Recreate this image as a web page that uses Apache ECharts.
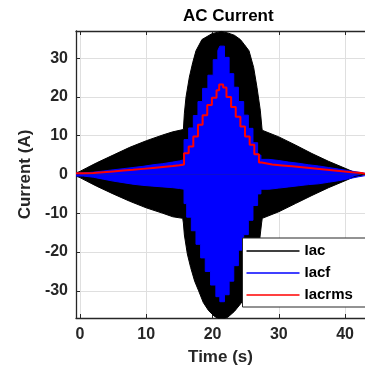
<!DOCTYPE html>
<html>
<head>
<meta charset="utf-8">
<script src="https://cdn.jsdelivr.net/npm/echarts@6/dist/echarts.min.js"></script>
<style>
  html, body { margin: 0; padding: 0; background: #ffffff; overflow: hidden; }
  #chart { width: 365px; height: 371px; }
</style>
</head>
<body>
<div id="chart"></div>
<script>
// Tick positions
const timeTicks = [0, 10, 20, 30, 40];
const currentTicks = [-30, -20, -10, 0, 10, 20, 30];

// Iac: envelope of the raw AC current, [time (s), current (A)]
const iacUpper = [
  [-0.6, 0.4], [0, 0.8], [1, 1.7], [2.5, 3.0], [5, 5.0], [7.5, 7.0], [10, 8.7],
  [12.5, 10.2], [14, 11.0], [15.6, 11.6], [15.75, 15.8], [16.0, 20.0], [16.5, 25.1],
  [17.0, 28.8], [17.5, 31.9], [18.4, 34.8], [19.9, 36.3], [21.3, 36.9], [22.3, 36.5],
  [23.3, 35.9], [24.2, 34.8], [24.8, 33.5], [25.5, 31.9], [26.2, 27.6], [26.7, 22.5],
  [27.2, 16.6], [27.45, 12.0], [27.5, 11.4], [30, 9.7], [32.5, 7.6], [35, 5.4],
  [37.5, 3.4], [40, 1.6], [41.5, 0.5], [43, 0]
];
const iacLower = [
  [-0.6, -0.4], [0, -0.8], [1, -1.7], [2.5, -3.0], [5, -5.0], [7.5, -6.9], [10, -8.6],
  [12.5, -10.0], [14, -10.9], [15.5, -11.3], [15.6, -12.5], [15.75, -15.6], [16.2, -20.5],
  [16.7, -24.0], [17.3, -27.5], [17.9, -30.0], [18.6, -33.0], [19.4, -35.1], [20.3, -36.6],
  [21.3, -37.5], [22.3, -36.8], [23.3, -35.3], [24.3, -33.2], [25.3, -30.3], [26.0, -27.0],
  [26.6, -22.5], [27.1, -17.0], [27.4, -12.5], [27.5, -11.3], [30, -9.6], [32.5, -7.5],
  [35, -5.4], [37.5, -3.4], [40, -1.6], [41.5, -0.5], [43, 0]
];

// Iacf: envelope of the filtered current (stair steps)
const iacfUpper = [
  [-0.6, 0.4], [0.5, 0.6], [2, 0.9], [3.5, 1.2], [5, 1.5], [6.5, 1.8], [8, 2.1],
  [9.5, 2.5], [11, 2.8], [12.5, 3.2], [14, 3.5], [15, 3.8], [15.7, 9.0], [16.4, 12.0],
  [17.1, 15.2], [17.8, 18.8], [18.5, 22.2], [19.3, 25.6], [20.1, 29.6], [20.8, 32.0],
  [21.1, 33.1], [21.8, 30.2], [22.5, 26.0], [23.2, 22.5], [23.9, 18.8], [24.7, 15.3],
  [25.4, 11.9], [26.1, 8.2], [26.8, 5.0], [27.3, 3.9], [28.5, 3.6], [30, 3.2],
  [31.5, 2.9], [33, 2.5], [34.5, 2.2], [36, 1.8], [37.5, 1.4], [39, 1.0], [40.5, 0.6],
  [42, 0.3], [43, 0.3]
];
const iacfLower = [
  [-0.6, -0.4], [0.5, -0.7], [2, -1.2], [3.5, -1.7], [5, -2.1], [6.5, -2.5], [8, -2.8],
  [9.5, -3.0], [11, -3.2], [12.5, -3.4], [14, -3.6], [15, -3.8], [15.7, -7.5], [16.1, -11.0],
  [16.8, -14.5], [17.5, -18.0], [18.2, -21.5], [18.9, -25.0], [19.7, -28.5], [20.5, -31.5],
  [21.1, -32.8], [21.8, -31.0], [22.5, -27.5], [23.2, -23.5], [23.9, -19.5], [24.7, -15.5],
  [25.4, -11.8], [26.1, -8.0], [26.8, -5.0], [27.3, -3.8], [28.5, -3.5], [30, -3.2],
  [31.5, -2.9], [33, -2.6], [34.5, -2.4], [36, -2.0], [37.5, -1.6], [39, -1.1],
  [40.5, -0.6], [42, -0.3], [43, -0.3]
];

// Iacrms: RMS current (stair steps)
const iacRms = [
  [-0.6, 0.3], [0.5, 0.4], [2, 0.6], [3.5, 0.8], [5, 1.0], [6.5, 1.2], [8, 1.45],
  [9.5, 1.7], [11, 1.95], [12.5, 2.2], [14, 2.4], [15, 2.6], [15.7, 5.5], [16.4, 7.2],
  [17.1, 9.8], [17.8, 12.8], [18.5, 15.3], [19.2, 17.9], [19.9, 19.8], [20.6, 21.7],
  [21.0, 23.2], [21.6, 22.4], [22.1, 20.0], [22.8, 17.4], [23.5, 14.9], [24.2, 12.4],
  [24.9, 9.8], [25.6, 7.7], [26.3, 5.2], [27.0, 3.1], [27.4, 2.6], [29, 2.35],
  [30.5, 2.1], [32, 1.85], [33.5, 1.6], [35, 1.35], [36.5, 1.1], [38, 0.85],
  [39.5, 0.6], [41, 0.4], [42.5, 0.2], [43, 0.2]
];

const FONT = '"Liberation Sans", Arial, Helvetica, sans-serif';
const INK = '#262626';
const BLACK = '#000000';
const BLUE = '#0000ff';
const RED = '#ff0000';

function band(name, data, color, step) {
  return {
    name: name,
    type: 'line',
    data: data,
    step: step || false,
    showSymbol: false,
    silent: true,
    animation: false,
    lineStyle: { color: color, width: 1 },
    itemStyle: { color: color },
    areaStyle: { color: color, opacity: 1, origin: 0 }
  };
}

const chart = echarts.init(document.getElementById('chart'), null, { renderer: 'canvas' });

chart.setOption({
  animation: false,
  backgroundColor: '#ffffff',
  textStyle: { fontFamily: FONT },
  title: {
    text: 'AC Current',
    left: 178,
    top: 3,
    textStyle: { fontFamily: FONT, fontSize: 17, fontWeight: 'bold', color: '#000000' }
  },
  grid: { left: 76, top: 31, width: 299.6, height: 289, containLabel: false },
  legend: {
    orient: 'vertical',
    left: 242.5,
    top: 238,
    padding: [5, 20, 4, 4],
    itemGap: 6,
    itemWidth: 53,
    itemHeight: 1.5,
    backgroundColor: '#ffffff',
    borderColor: INK,
    borderWidth: 1,
    borderRadius: 0,
    textStyle: { fontFamily: FONT, fontSize: 15, fontWeight: 'bold', color: '#000000', lineHeight: 16 },
    data: [
      { name: 'Iac', icon: 'rect', itemStyle: { color: BLACK } },
      { name: 'Iacf', icon: 'rect', itemStyle: { color: BLUE } },
      { name: 'Iacrms', icon: 'rect', itemStyle: { color: RED } }
    ],
    selectedMode: false
  },
  xAxis: [
    {
      type: 'value',
      min: -0.6,
      max: 43,
      name: 'Time (s)',
      nameLocation: 'middle',
      nameGap: 31,
      nameTextStyle: { fontFamily: FONT, fontSize: 17, fontWeight: 'bold', color: INK },
      axisLine: { show: true, onZero: false, lineStyle: { color: INK, width: 1.3 } },
      axisTick: { show: true, inside: true, length: 4, customValues: timeTicks, lineStyle: { color: INK } },
      axisLabel: { customValues: timeTicks, margin: 9, fontFamily: FONT, fontSize: 16, fontWeight: 'bold', color: INK },
      splitLine: { show: true, lineStyle: { color: '#dfdfdf', width: 1 } }
    },
    {
      type: 'value',
      position: 'top',
      min: -0.6,
      max: 43,
      axisLine: { show: true, onZero: false, lineStyle: { color: INK, width: 1.3 } },
      axisTick: { show: true, inside: true, length: 4, customValues: timeTicks, lineStyle: { color: INK } },
      axisLabel: { show: false },
      splitLine: { show: false }
    }
  ],
  yAxis: {
    type: 'value',
    min: -37,
    max: 37,
    name: 'Current (A)',
    nameLocation: 'middle',
    nameGap: 33,
    nameTextStyle: { fontFamily: FONT, fontSize: 17, fontWeight: 'bold', color: INK },
    axisLine: { show: true, onZero: false, lineStyle: { color: INK, width: 1.3 } },
    axisTick: { show: true, inside: true, length: 4, customValues: currentTicks, lineStyle: { color: INK } },
    axisLabel: { customValues: currentTicks, margin: 8, fontFamily: FONT, fontSize: 16, fontWeight: 'bold', color: INK },
    splitLine: { show: true, lineStyle: { color: '#dfdfdf', width: 1 } }
  },
  series: [
    band('Iac', iacUpper, BLACK),
    band('Iac', iacLower, BLACK),
    band('Iacf', iacfUpper, BLUE, 'end'),
    band('Iacf', iacfLower, BLUE, 'end'),
    {
      name: 'Iacrms',
      type: 'line',
      data: iacRms,
      step: 'end',
      showSymbol: false,
      silent: true,
      animation: false,
      lineStyle: { color: RED, width: 2 },
      itemStyle: { color: RED }
    }
  ]
});
</script>
</body>
</html>
